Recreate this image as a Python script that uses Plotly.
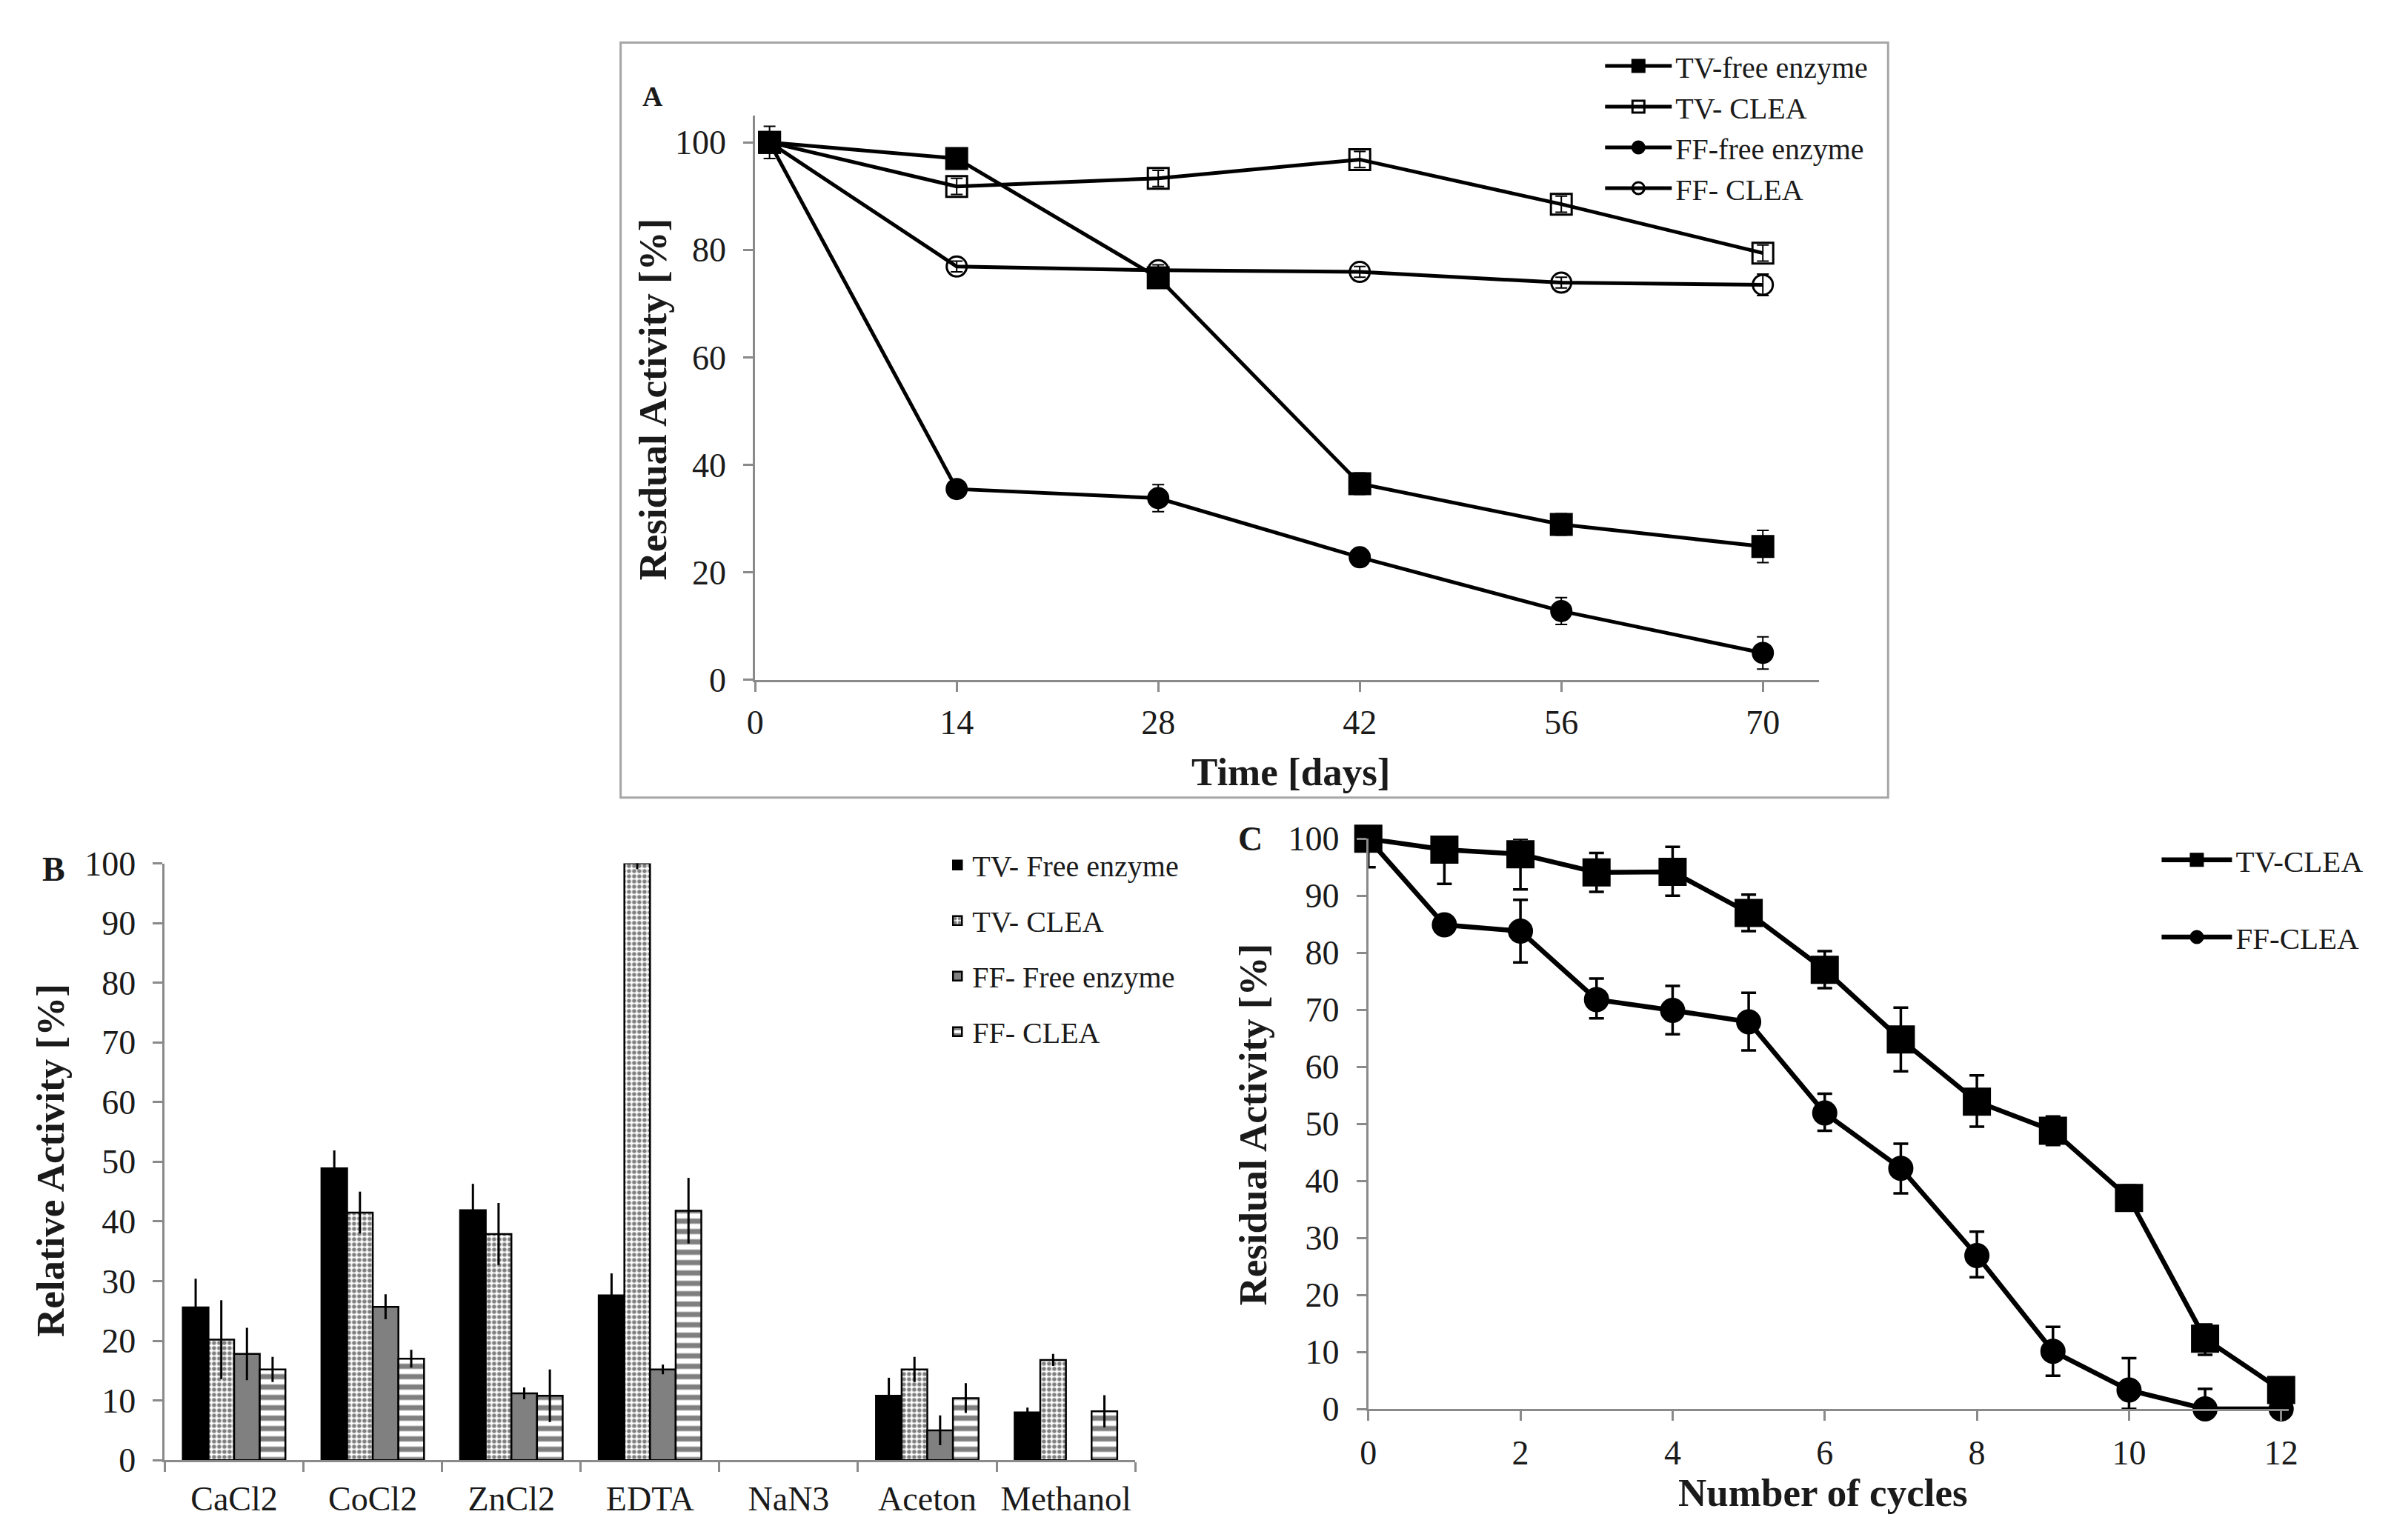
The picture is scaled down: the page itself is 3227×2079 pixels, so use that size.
import plotly.graph_objects as go

W, H = 3227, 2079

# ---- panel A: storage stability ----
days = [1, 14, 28, 42, 56, 70]
a_tv_free = [100, 97, 74.8, 36.5, 28.9, 24.8]
a_tv_free_err = [3, 1, 1.5, 2, 2, 3]
a_tv_clea = [100, 91.8, 93.3, 96.8, 88.5, 79.4]
a_tv_clea_err = [1, 1.5, 1.5, 1.5, 1.5, 1.5]
a_ff_free = [100, 35.5, 33.8, 22.8, 12.8, 5.0]
a_ff_free_err = [1, 1, 2.5, 1, 2.5, 3]
a_ff_clea = [100, 76.9, 76.2, 75.9, 73.9, 73.5]
a_ff_clea_err = [1, 1, 1, 1, 1, 2]

# ---- panel B: effect of additives ----
additives = ["CaCl2", "CoCl2", "ZnCl2", "EDTA", "NaN3", "Aceton", "Methanol"]
b_tv_free = [25.6, 48.9, 41.9, 27.6, 0, 10.8, 8.0]
b_tv_free_err = [4.8, 3.0, 4.4, 3.7, 0, 3.0, 0.8]
b_tv_clea = [20.2, 41.5, 37.9, 100, 0, 15.2, 16.8]
b_tv_clea_err = [6.6, 3.5, 5.2, 1.0, 0, 2.1, 1.0]
b_ff_free = [17.8, 25.7, 11.2, 15.2, 0, 5.0, 0]
b_ff_free_err = [4.4, 2.1, 1.0, 0.8, 0, 2.5, 0]
b_ff_clea = [15.2, 17.0, 10.8, 41.8, 0, 10.4, 8.2]
b_ff_clea_err = [2.1, 1.5, 4.4, 5.5, 0, 2.5, 2.7]

# ---- panel C: reusability ----
cycles = [0, 1, 2, 3, 4, 5, 6, 7, 8, 9, 10, 11, 12]
c_tv = [100, 98.1, 97.3, 94.1, 94.2, 87.0, 77.0, 64.8, 53.9, 48.8, 37.0, 12.3, 3.3]
c_tv_up = [0, 1.9, 2.7, 3.4, 4.4, 3.2, 3.3, 5.6, 4.6, 2.5, 2.2, 2.5, 2.0]
c_tv_down = [0, 6.0, 6.2, 3.4, 4.2, 3.2, 3.2, 5.6, 4.4, 2.5, 2.2, 2.8, 2.0]
c_ff = [100, 84.9, 83.8, 71.8, 69.9, 67.9, 51.9, 42.2, 26.9, 10.1, 3.3, 0, 0]
c_ff_up = [0, 1.5, 5.5, 3.7, 4.3, 5.1, 3.4, 4.3, 4.2, 4.3, 5.6, 3.5, 0]
c_ff_down = [5.0, 1.5, 5.5, 3.3, 4.2, 5.0, 3.1, 4.4, 3.8, 4.3, 3.3, 0, 0]

SERIF = "Liberation Serif, Times New Roman, serif"
AXIS_GREY = "#8a8a8a"
TXT = "#1a1a1a"


def px_x(v):
    return v / W


def px_y(v):
    return 1 - v / H


fig = go.Figure()


def add_line(x, y, name, symbol, size, lw, xa, ya, legend, err=None, up=None, down=None,
             cap=6, ethick=2):
    if err is not None:
        ey = dict(type="data", array=err, visible=True, color="black",
                  thickness=ethick, width=cap)
    else:
        ey = dict(type="data", symmetric=False, array=up, arrayminus=down,
                  visible=True, color="black", thickness=ethick, width=cap)
    fig.add_trace(go.Scatter(
        x=x, y=y, name=name, mode="lines+markers",
        line=dict(color="black", width=lw),
        marker=dict(symbol=symbol, size=size, color="black",
                    line=dict(color="black", width=3)),
        error_y=ey, xaxis=xa, yaxis=ya, legend=legend,
        legendgroup=name + legend, cliponaxis=False,
    ))


add_line(days, a_tv_free, "TV-free enzyme", "square", 28, 5, "x", "y", "legend", err=a_tv_free_err, cap=8)
add_line(days, a_tv_clea, "TV- CLEA", "square-open", 28, 5, "x", "y", "legend", err=a_tv_clea_err, cap=8)
add_line(days, a_ff_free, "FF-free enzyme", "circle", 27, 5, "x", "y", "legend", err=a_ff_free_err, cap=8)
add_line(days, a_ff_clea, "FF- CLEA", "circle-open", 27, 5, "x", "y", "legend", err=a_ff_clea_err, cap=8)

bar_specs = [
    ("TV- Free enzyme", b_tv_free, b_tv_free_err, "black", None),
    ("TV- CLEA", b_tv_clea, b_tv_clea_err, "white", dict(shape=".", fgcolor="black", bgcolor="white", size=7, solidity=0.5)),
    ("FF- Free enzyme", b_ff_free, b_ff_free_err, "#808080", None),
    ("FF- CLEA", b_ff_clea, b_ff_clea_err, "white", dict(shape="-", fgcolor="black", bgcolor="white", size=14, solidity=0.5)),
]
for name, vals, errs, col, pat in bar_specs:
    # no outline on empty (zero) bars, as in the original
    mk = dict(color=col, line=dict(color="black", width=[2.5 if v > 0 else 0 for v in vals]))
    if pat:
        mk["pattern"] = pat
    fig.add_trace(go.Bar(
        x=additives, y=vals, name=name, marker=mk,
        error_y=dict(type="data", array=errs, visible=True, color="black",
                     thickness=3, width=0),
        xaxis="x2", yaxis="y2", legend="legend2", legendgroup=name + "b",
    ))

add_line(cycles, c_tv, "TV-CLEA", "square", 35, 6.5, "x3", "y3", "legend3",
         up=c_tv_up, down=c_tv_down, cap=10, ethick=3.5)
add_line(cycles, c_ff, "FF-CLEA", "circle", 31, 6.5, "x3", "y3", "legend3",
         up=c_ff_up, down=c_ff_down, cap=10, ethick=3.5)

tick_font = dict(family=SERIF, size=46, color=TXT)
axis_common = dict(showgrid=False, zeroline=False, showline=True, linecolor=AXIS_GREY,
                   linewidth=3, ticks="outside", tickcolor=AXIS_GREY, tickwidth=3,
                   ticklen=13, tickfont=tick_font)

fig.update_layout(
    width=W, height=H, margin=dict(l=0, r=0, t=0, b=0),
    paper_bgcolor="white", plot_bgcolor="white",
    barmode="group", bargap=0.26, bargroupgap=0,
    font=dict(family=SERIF, color=TXT),
    xaxis=dict(domain=[px_x(1007), px_x(2454)], range=[0, 73.9], tickvals=[0, 14, 28, 42, 56, 70],
               anchor="y", ticklabelstandoff=2, **axis_common),
    yaxis=dict(domain=[px_y(907), px_y(126)], range=[0, 105], tickvals=[0, 20, 40, 60, 80, 100],
               anchor="x", ticklabelstandoff=14, **axis_common),
    xaxis2=dict(domain=[px_x(204), px_x(1524)], type="category", tickson="boundaries",
                tickangle=0, anchor="y2", ticklabelstandoff=10, **axis_common),
    yaxis2=dict(domain=[px_y(1987), px_y(1161)], range=[0, 100], dtick=10,
                anchor="x2", ticklabelstandoff=14, **axis_common),
    xaxis3=dict(domain=[px_x(1841), px_x(3093)], range=[0, 12.1], dtick=2,
                anchor="y3", ticklabelstandoff=4, **axis_common),
    yaxis3=dict(domain=[px_y(1916), px_y(1127)], range=[0, 100], dtick=10,
                anchor="x3", ticklabelstandoff=14, **axis_common),
    legend=dict(x=px_x(2158), y=px_y(24), xanchor="left", yanchor="top",
                font=dict(family=SERIF, size=40, color=TXT), itemwidth=90,
                bgcolor="rgba(0,0,0,0)", tracegroupgap=0),
    legend2=dict(x=px_x(1262), y=px_y(1130), xanchor="left", yanchor="top",
                 font=dict(family=SERIF, size=40, color=TXT), itemwidth=30,
                 bgcolor="rgba(0,0,0,0)", tracegroupgap=20),
    legend3=dict(x=px_x(2915), y=px_y(1122), xanchor="left", yanchor="top",
                 font=dict(family=SERIF, size=41, color=TXT), itemwidth=95,
                 bgcolor="rgba(0,0,0,0)", tracegroupgap=48),
    showlegend=True,
)

# border around panel A
fig.add_shape(type="rect", xref="paper", yref="paper",
              x0=px_x(824), x1=px_x(2548), y0=px_y(1070), y1=px_y(25),
              line=dict(color="#a6a6a6", width=3))

title_font = dict(family=SERIF, size=53, color=TXT, weight="bold")
notes = [
    ("A", 868, 99, 0, dict(family=SERIF, size=38, color=TXT, weight="bold")),
    ("B", 53, 1169, 0, dict(family=SERIF, size=46, color=TXT, weight="bold")),
    ("C", 1681, 1127, 0, dict(family=SERIF, size=46, color=TXT, weight="bold")),
    ("Residual Activity [%]", 868, 519, -90, title_font),
    ("Time [days]", 1735, 1034, 0, title_font),
    ("Relative Activity [%]", 49, 1572, -90, title_font),
    ("Residual Activity [%]", 1684, 1522, -90, title_font),
    ("Number of cycles", 2460, 2032, 0, title_font),
]
for text, x, y, ang, f in notes:
    fig.add_annotation(text=text, x=px_x(x), y=px_y(y), xref="paper", yref="paper",
                       xanchor="center", yanchor="middle", showarrow=False,
                       textangle=ang, font=f)

fig.write_html("out.html")
